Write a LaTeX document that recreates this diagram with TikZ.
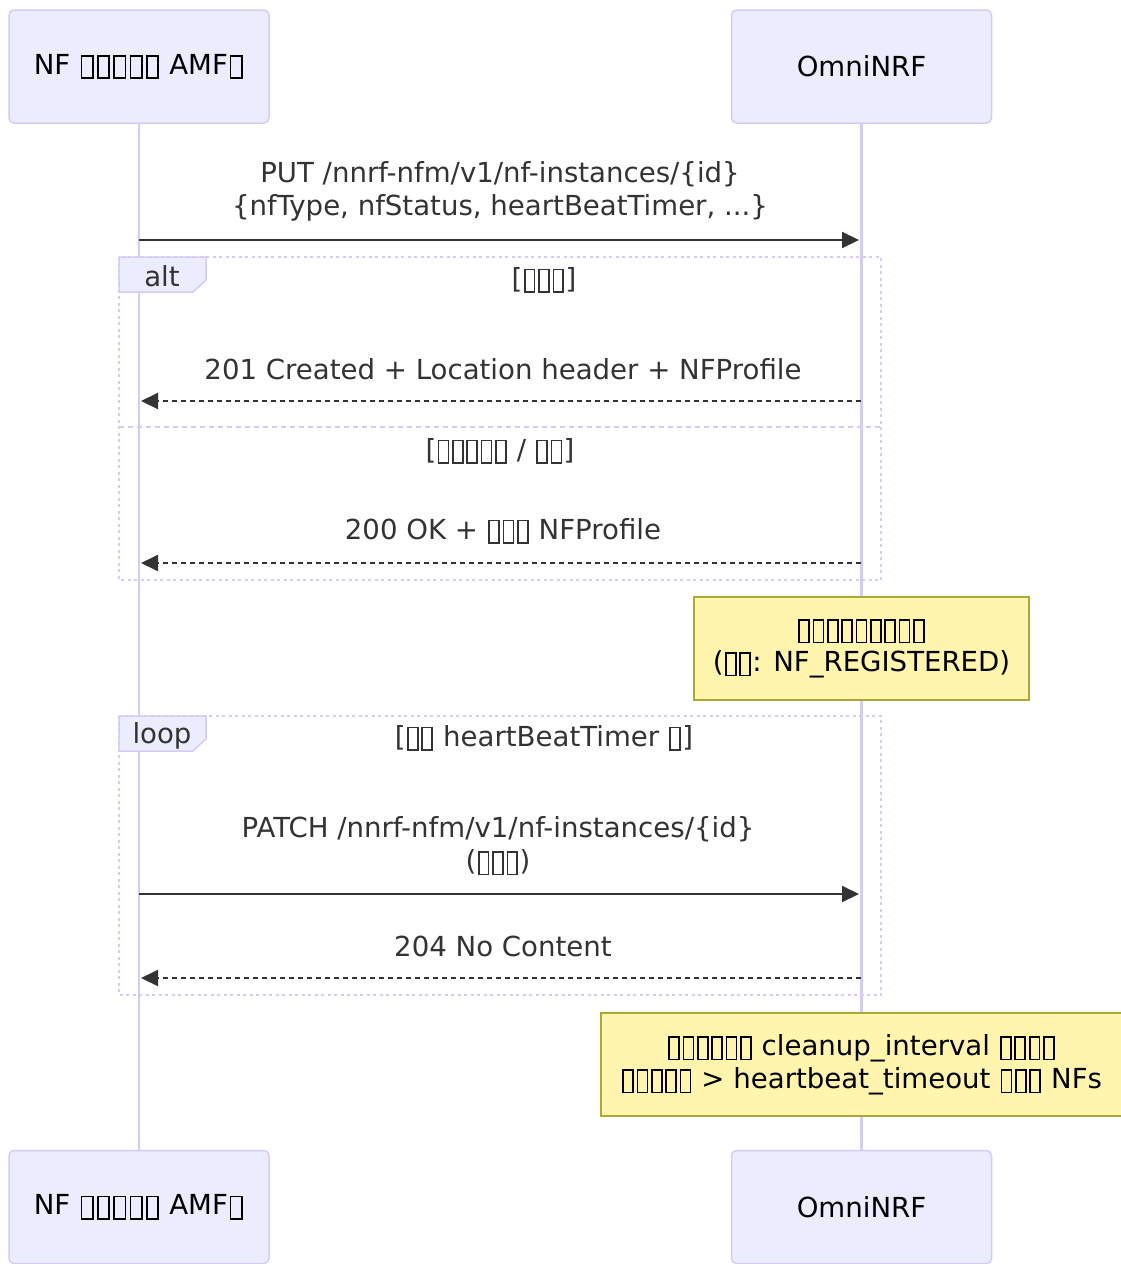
\documentclass[tikz,border=0pt]{standalone}
\usepackage{fontspec}
\setmainfont{DejaVu Sans}
\usetikzlibrary{arrows.meta}
\definecolor{actorfill}{HTML}{ECECFF}
\definecolor{actorline}{HTML}{D6CBF2}
\definecolor{notefill}{HTML}{FFF5AD}
\definecolor{noteline}{HTML}{AAAA33}
\definecolor{msgcol}{HTML}{333333}
% missing glyph boxes, as the picture prints them
\newcommand{\tf}{\kern.05em\lower.18em\hbox{\vrule width .06em\vbox to .88em{\hrule height .06em width .3em\vfil\hrule height .06em}\vrule width .06em}\kern.05em}
\newcommand{\tfw}{\kern.06em\lower.18em\hbox{\vrule width .06em\vbox to .86em{\hrule height .06em width .35em\vfil\hrule height .06em}\vrule width .06em}\kern.06em}

\begin{document}
\begin{tikzpicture}[x=1pt, y=-1pt, font=\fontsize{27.6}{33}\selectfont,
    actor/.style={draw=actorline, fill=actorfill, line width=1.5pt, rounded corners=5pt,
      minimum width=260pt, minimum height=113pt, text=black},
    life/.style={draw=actorline, line width=2.5pt},
    msg/.style={draw=msgcol, line width=2pt, shorten >=2pt, -{Triangle[length=17pt,width=16pt]}},
    reply/.style={msg, dash pattern=on 5pt off 4pt},
    lbl/.style={text=msgcol, align=center, inner sep=0pt},
    frame/.style={draw=actorline, line width=2pt, dash pattern=on 3pt off 3.5pt},
    tag/.style={draw=actorline, fill=actorfill, line width=1.5pt},
    note/.style={draw=noteline, fill=notefill, line width=1.5pt, align=center, text=black, inner sep=0pt}]
    \useasboundingbox (0,0) rectangle (1120,1264);
    % participants
    \node[actor] (nfTop)  at (139,66.5)   {NF \tfw\tfw\tfw\tfw\tfw{} AMF\tfw};
    \node[actor] (nrfTop) at (861.5,66.5) {OmniNRF};
    \node[actor] (nfBot)  at (139,1207)   {NF \tfw\tfw\tfw\tfw\tfw{} AMF\tfw};
    \node[actor] (nrfBot) at (861.5,1207) {OmniNRF};
    \draw[life] (nfTop) -- (nfBot);
    \draw[life] (nrfTop) -- (nrfBot);
    % message ends on the lifelines
    \coordinate (nfA) at (139,240);  \coordinate (nrfA) at (861,240);
    \coordinate (nfB) at (139,401);  \coordinate (nrfB) at (861,401);
    \coordinate (nfC) at (139,563);  \coordinate (nrfC) at (861,563);
    \coordinate (nfD) at (139,894);  \coordinate (nrfD) at (861,894);
    \coordinate (nfE) at (139,978);  \coordinate (nrfE) at (861,978);
    % register
    \draw[msg] (nfA) -- (nrfA);
    \node[lbl] (putText) at (500,191) {PUT /nnrf-nfm/v1/nf-instances/\{id\}\\\{nfType, nfStatus, heartBeatTimer, ...\}};
    % alt
    \draw[frame] (119,257) rectangle (881,580);
    \draw[frame, dash pattern=on 5pt off 4pt] (119,427) -- (881,427);
    \draw[tag] (119,257) -- (206,257) -- (206,280) -- (193,292) -- (119,292) -- cycle;
    \node[lbl] (altTag) at (162,276) {alt};
    \node[lbl] (altNew) at (544,280) {[\tf\tf\tf]};
    \draw[reply] (nrfB) -- (nfB);
    \node[lbl] (createdText) at (503,369) {201 Created + Location header + NFProfile};
    \node[lbl] (altOld) at (500,451) {[\tf\tf\tf\tf\tf{} / \tf\tf]};
    \draw[reply] (nrfC) -- (nfC);
    \node[lbl] (okText) at (503,531) {200 OK + \tf\tf\tf{} NFProfile};
    % note
    \node[note, minimum width=335pt, minimum height=103pt] (stateNote) at (861.5,648.5)
      {\tf\tf\tf\tf\tf\tf\tf\tf\tf\\(\tf\tf: NF\_REGISTERED)};
    % loop
    \draw[frame] (119,716) rectangle (881,995);
    \draw[tag] (119,716) -- (206,716) -- (206,739) -- (193,751) -- (119,751) -- cycle;
    \node[lbl] (loopTag) at (162,736) {loop};
    \node[lbl] (loopCond) at (544,738) {[\tf\tf{} heartBeatTimer \tf]};
    \draw[msg] (nfD) -- (nrfD);
    \node[lbl] (patchText) at (498,846) {PATCH /nnrf-nfm/v1/nf-instances/\{id\}\\(\tf\tf\tf)};
    \draw[reply] (nrfE) -- (nfE);
    \node[lbl] (noContent) at (503,946) {204 No Content};
    % note
    \node[note, minimum width=521pt, minimum height=103pt] (cleanNote) at (861.5,1064.5)
      {\tf\tf\tf\tf\tf\tf{} cleanup\_interval \tf\tf\tf\tf\\\tf\tf\tf\tf\tf{} > heartbeat\_timeout \tf\tf\tf{} NFs};
\end{tikzpicture}
\end{document}
